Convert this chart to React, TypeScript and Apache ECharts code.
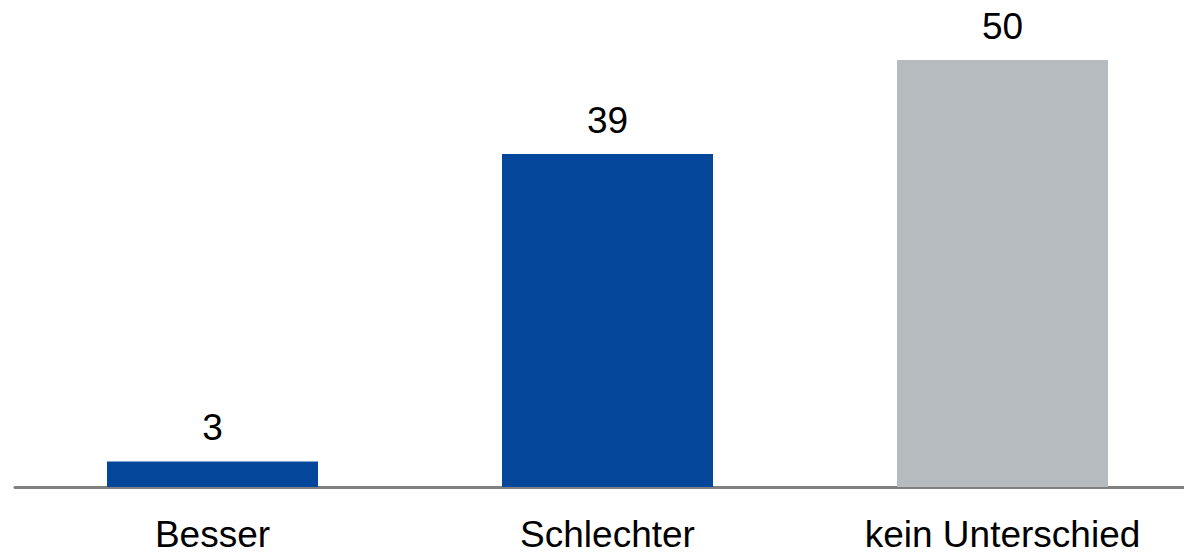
import React, { useEffect, useRef } from "react";
import * as echarts from "echarts";

const categories = ["Besser", "Schlechter", "kein Unterschied"];
const values = [3, 39, 50];
const barColors = ["#03469A", "#03469A", "#B6BBBF"];

export default function App() {
  const ref = useRef<HTMLDivElement>(null);
  useEffect(() => {
    if (!ref.current) return;
    const chart = echarts.init(ref.current, undefined, { renderer: "svg" });
    const font = "'Liberation Sans', Arial, Helvetica, sans-serif";
    chart.setOption({
      animation: false,
      grid: { left: 15, top: 60, right: 0, bottom: 67, containLabel: false },
      xAxis: {
        type: "category",
        data: categories,
        axisLine: { show: true, lineStyle: { color: "#808080", width: 3 } },
        axisTick: { show: false },
        axisLabel: {
          color: "#000",
          fontSize: 37,
          lineHeight: 36,
          fontFamily: font,
          margin: 29,
          interval: 0,
        },
      },
      yAxis: {
        type: "value",
        min: 0,
        max: 50,
        show: false,
        splitLine: { show: false },
      },
      series: [
        {
          type: "bar",
          barWidth: 211,
          data: values.map((v, i) => ({ value: v, itemStyle: { color: barColors[i] } })),
          label: {
            show: true,
            position: "top",
            distance: 15,
            color: "#000",
            fontSize: 37,
            fontFamily: font,
          },
        },
      ],
    });
    return () => chart.dispose();
  }, []);
  return (
    <div
      style={{ position: "absolute", left: 0, top: 0, width: 1184, height: 554, overflow: "hidden", background: "#fff" }}
    >
      <div ref={ref} style={{ width: 1200, height: 554 }} />
    </div>
  );
}
